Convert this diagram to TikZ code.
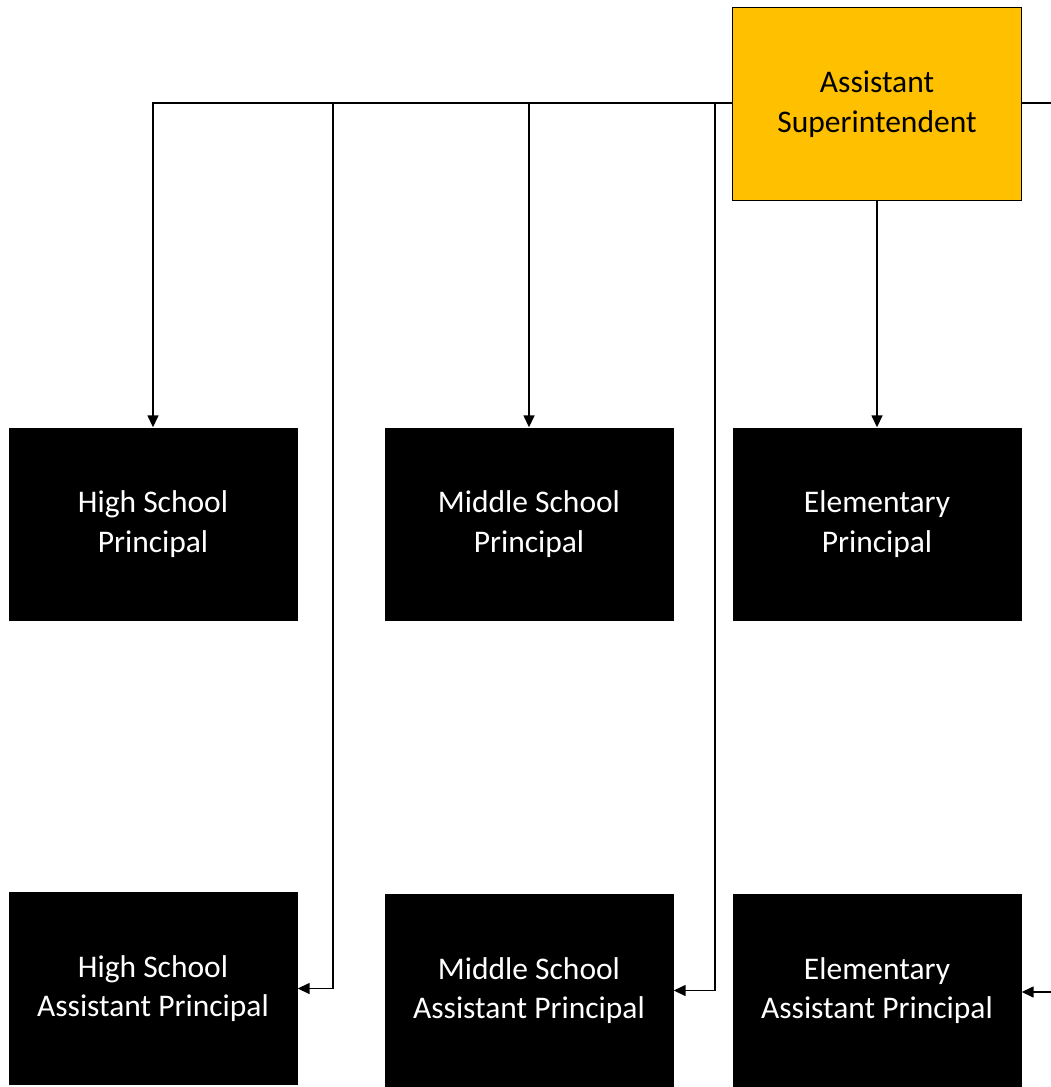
\documentclass[tikz,border=0pt]{standalone}
\usepackage{fontspec}
\setmainfont{Carlito}
\usetikzlibrary{arrows.meta}
\definecolor{gold}{HTML}{FFC000}
\begin{document}
\begin{tikzpicture}[x=1pt,y=-1pt,
  box/.style={minimum width=289pt,minimum height=193pt,inner sep=0pt,align=center,
    font=\fontsize{31.5}{39.5}\selectfont},
  headbox/.style={box,fill=gold,draw=black,line width=1.6pt},
  staffbox/.style={box,fill=black,text=white},
  link/.style={line width=1.5pt,-{Triangle[length=12pt,width=11pt]}},
  bar/.style={line width=1.5pt}]
\useasboundingbox (0,0) rectangle (1051,1087);
\clip (0,0) rectangle (1051,1087);

% head of the chart
\node[headbox] (sup) at (877,104) {\raisebox{-2pt}{\parbox{280pt}{\centering Assistant\\Superintendent}}};

% principals
\node[staffbox] (hsp) at (153,524) {\raisebox{-2pt}{\parbox{280pt}{\centering High School\\Principal}}};
\node[staffbox] (msp) at (529,524) {\raisebox{-2pt}{\parbox{280pt}{\centering Middle School\\Principal}}};
\node[staffbox] (elp) at (877,524) {\raisebox{-2pt}{\parbox{280pt}{\centering Elementary\\Principal}}};

% assistant principals
\node[staffbox] (hsa) at (153,988.5) {\raisebox{-2pt}{\parbox{280pt}{\centering High School\\Assistant Principal}}};
\node[staffbox] (msa) at (529,990.5) {\raisebox{-2pt}{\parbox{280pt}{\centering Middle School\\Assistant Principal}}};
\node[staffbox] (ela) at (877,990.5) {\raisebox{-2pt}{\parbox{280pt}{\centering Elementary\\Assistant Principal}}};

% trunk lines leaving the edge of the chart
\coordinate (rtop) at (1070,103);
\coordinate (rlow) at (1070,992);
\coordinate (hsbend) at (333,103);
\coordinate (msbend) at (715,103);

% connectors
\draw[link] (sup.west |- 0,103) -| (hsp.north);
\draw[link] (sup.west |- 0,103) -| (msp.north);
\draw[link] (sup.south) -- (elp.north);
\draw[link] (hsbend) |- (hsa.east);
\draw[link] (msbend) |- (msa.east);
\draw[bar] (sup.east |- 0,103) -- (rtop);
\draw[link] (rlow) -- (ela.east |- rlow);
\end{tikzpicture}
\end{document}
